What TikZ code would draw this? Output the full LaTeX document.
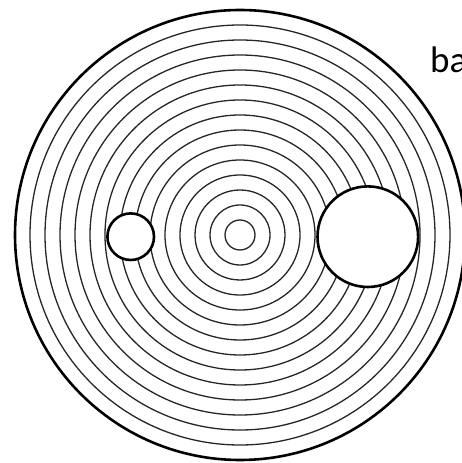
\documentclass[tikz,border=0pt]{standalone}
\usepackage{fontspec}
\setmainfont{Carlito}
\begin{document}
\begin{tikzpicture}[x=1pt,y=1pt,
  ring/.style={draw=black!85,line width=1.3pt},
  rim/.style={draw=black,line width=2.6pt},
  hole/.style={draw=black,line width=2.6pt,fill=white}]
\useasboundingbox (0,0) rectangle (462,463);
\foreach \r in {15,30,...,210} {\draw[ring] (240,228) circle (\r);}
\draw[rim] (240,228) circle (225);
\draw[hole] (130.7,226.3) circle (23.3);
\draw[hole] (367.8,226.3) circle (50.3);
\node[anchor=base west,inner sep=0pt,font=\fontsize{37}{40}\selectfont] (lbl) at (430,390.5) {ba};
\end{tikzpicture}
\end{document}
